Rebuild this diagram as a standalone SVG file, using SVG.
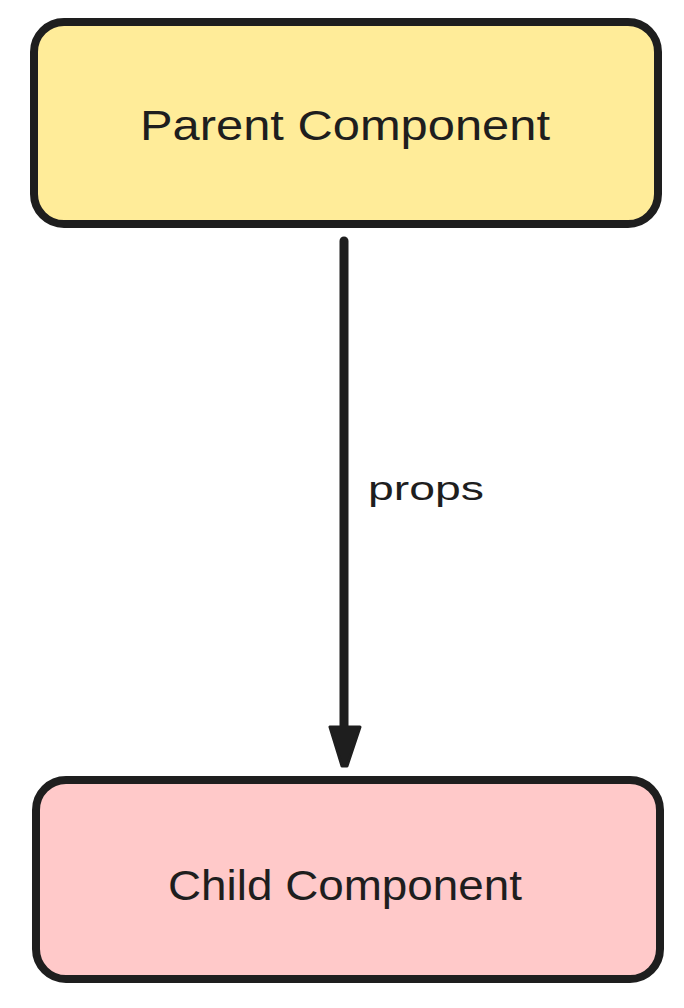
<svg xmlns="http://www.w3.org/2000/svg" width="684" height="1008" viewBox="0 0 684 1008">
  <defs>
    <style>
      .box { stroke: #1e1e1e; stroke-width: 8; stroke-linejoin: round; }
      .label { font-family: "Liberation Sans", "DejaVu Sans", sans-serif; fill: #1e1e1e; text-anchor: middle; }
      .conn { stroke: #1e1e1e; stroke-width: 9; stroke-linecap: round; fill: none; }
    </style>
    <marker id="arrow" viewBox="0 0 30 40" refX="15" refY="38" markerWidth="30" markerHeight="40" markerUnits="userSpaceOnUse" orient="auto">
      <path d="M1,2 L29,2 L17,38 L13,38 Z" fill="#1e1e1e" stroke="#1e1e1e" stroke-width="2" stroke-linejoin="round"/>
    </marker>
  </defs>
  <rect width="684" height="1008" fill="#ffffff"/>
  <g id="parent">
    <rect class="box" x="34" y="22" width="624" height="202" rx="30" ry="30" fill="#ffec99"/>
    <text class="label" x="345" y="140" font-size="42" textLength="410" lengthAdjust="spacingAndGlyphs">Parent Component</text>
  </g>
  <g id="child">
    <rect class="box" x="36" y="780" width="624" height="199" rx="30" ry="30" fill="#ffc9c9"/>
    <text class="label" x="345" y="900" font-size="42" textLength="354" lengthAdjust="spacingAndGlyphs">Child Component</text>
  </g>
  <g id="connectors">
    <line class="conn" x1="344" y1="241" x2="344" y2="735"/>
    <path d="M330,727 L360,727 L347,766 L342,766 Z" fill="#1e1e1e" stroke="#1e1e1e" stroke-width="3" stroke-linejoin="round"/>
    <text class="label" x="426" y="500" font-size="34" textLength="116" lengthAdjust="spacingAndGlyphs">props</text>
  </g>
</svg>
